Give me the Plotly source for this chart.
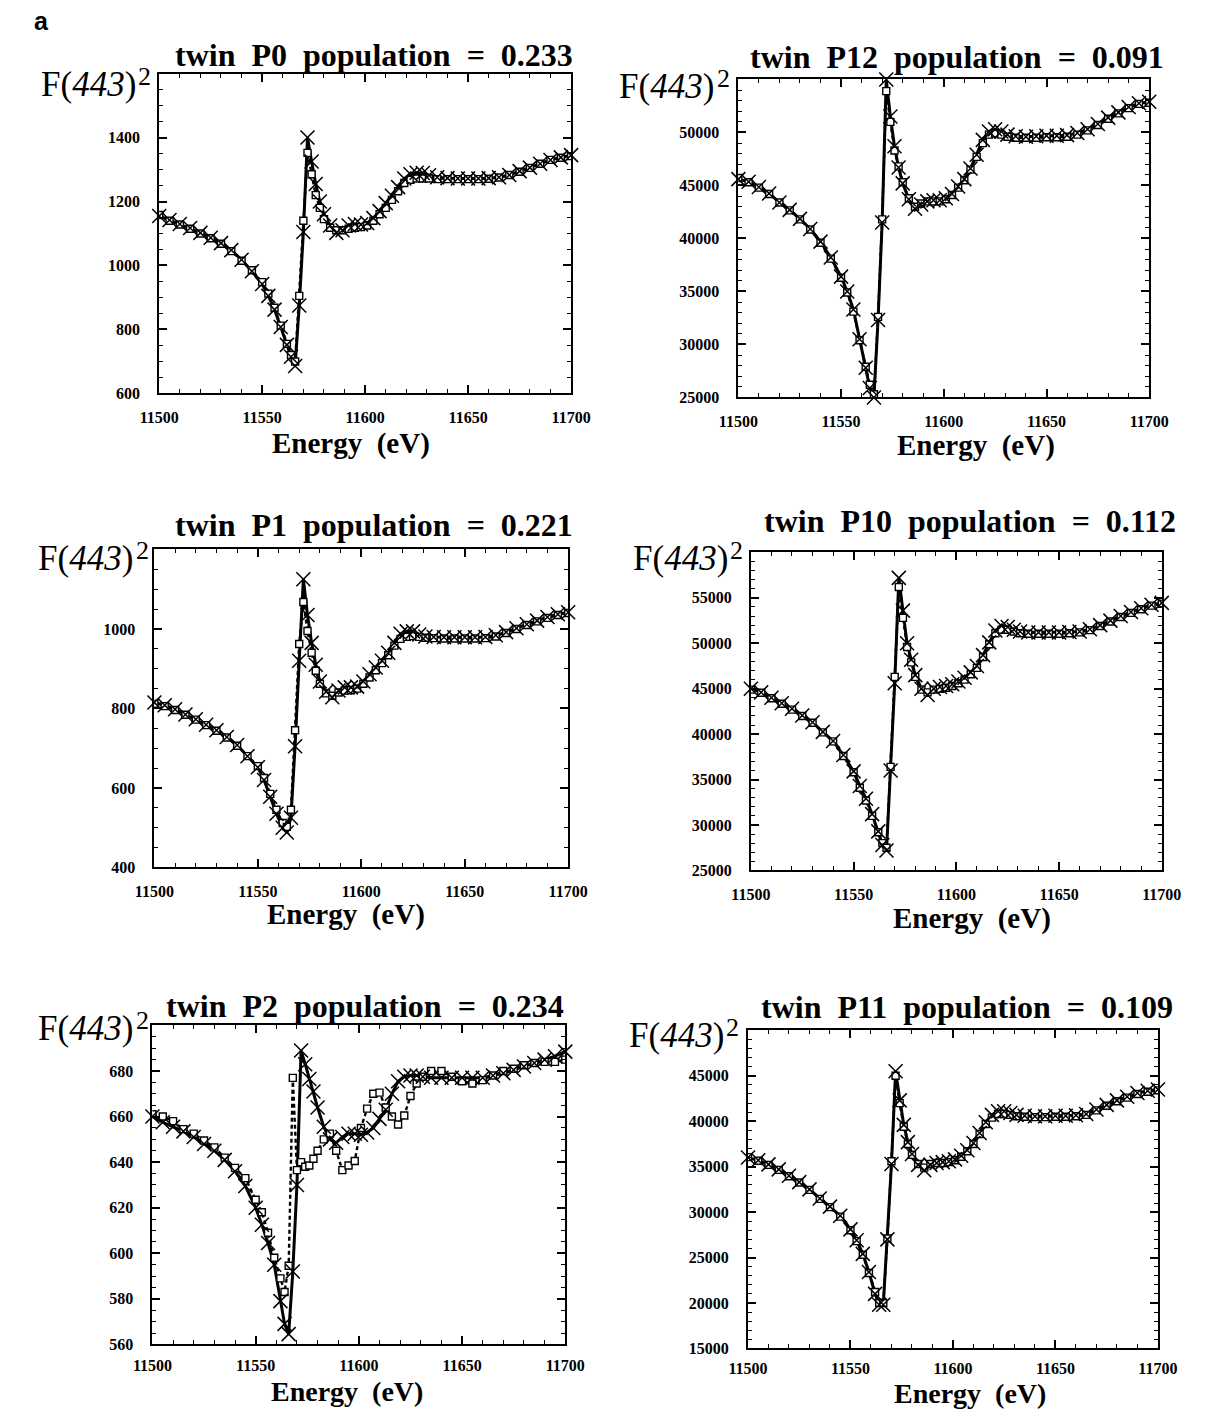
import plotly.graph_objects as go

W, H = 1205, 1415

# ---------------- data ----------------
energy = [11500, 11505, 11510, 11515, 11520, 11525, 11530, 11535, 11540, 11545,
          11550, 11553, 11556, 11559, 11562, 11564, 11566, 11568, 11570, 11572,
          11574, 11576, 11578, 11580, 11583, 11586, 11589, 11592, 11595, 11598,
          11601, 11604, 11607, 11610, 11613, 11616, 11619, 11622, 11625, 11628,
          11631, 11635, 11640, 11645, 11650, 11655, 11660, 11665, 11670, 11675,
          11680, 11685, 11690, 11695, 11700]

x_ticks = [11500, 11550, 11600, 11650, 11700]

# twin P0
p0_calc = [1155, 1142, 1130, 1117, 1102, 1087, 1070, 1048, 1018, 982,
           942, 905, 862, 808, 752, 715, 686, 875, 1105, 1400,
           1325, 1255, 1200, 1160, 1125, 1102, 1110, 1125, 1130, 1128,
           1133, 1148, 1170, 1195, 1218, 1245, 1272, 1285, 1290, 1289,
           1282, 1276, 1273, 1272, 1272, 1272, 1273, 1276, 1283, 1295,
           1306, 1318, 1330, 1338, 1345]
p0_obs = [1158, 1140, 1128, 1115, 1100, 1085, 1068, 1045, 1015, 985,
          948, 912, 868, 812, 755, 720, 700, 905, 1140, 1352,
          1285, 1220, 1180, 1145, 1118, 1110, 1110, 1115, 1118, 1120,
          1125, 1140, 1160, 1180, 1205, 1232, 1258, 1268, 1272, 1272,
          1272, 1270, 1270, 1270, 1270, 1270, 1271, 1275, 1283, 1293,
          1305, 1318, 1330, 1337, 1342]
p0_yticks = [600, 800, 1000, 1200, 1400]

# twin P12
p12_calc = [45600, 45350, 44850, 44250, 43400, 42700, 41850, 40900, 39700, 38200,
            36400, 35000, 33300, 30500, 27800, 25900, 25000, 32300, 41500, 55000,
            51500, 48700, 46700, 45200, 43700, 42800, 43200, 43500, 43600, 43600,
            43800, 44200, 44900, 45600, 46600, 47900, 49300, 50100, 50300, 50100,
            49800, 49650, 49600, 49650, 49700, 49700, 49750, 49950, 50300, 50800,
            51400, 51900, 52400, 52750, 52900]
p12_obs = [45700, 45300, 44800, 44200, 43400, 42650, 41800, 40850, 39600, 38100,
           36300, 34900, 33100, 30400, 27900, 26200, 25300, 32600, 41800, 53900,
           51000, 48300, 46800, 45300, 43800, 43000, 43300, 43500, 43500, 43500,
           43700, 44100, 44800, 45500, 46500, 47700, 49000, 49800, 49900, 49800,
           49600, 49500, 49500, 49500, 49550, 49550, 49600, 49800, 50200, 50700,
           51300, 51800, 52300, 52700, 52800]
p12_yticks = [25000, 30000, 35000, 40000, 45000, 50000]

# twin P1
p1_calc = [815, 808, 798, 785, 773, 759, 745, 728, 708, 680,
           652, 620, 578, 535, 500, 488, 525, 705, 920, 1125,
           1035, 965, 910, 868, 842, 828, 845, 853, 853, 855,
           868, 886, 903, 920, 940, 965, 988, 994, 994, 986,
           981, 980, 979, 979, 979, 979, 980, 984, 992, 1002,
           1012, 1021, 1030, 1037, 1042]
p1_obs = [812, 806, 796, 784, 772, 758, 744, 727, 706, 680,
          655, 625, 585, 545, 512, 502, 545, 745, 962, 1068,
          995, 940, 895, 862, 838, 832, 840, 845, 846, 850,
          862, 878, 896, 914, 934, 958, 975, 980, 982, 980,
          978, 977, 976, 976, 976, 976, 977, 981, 990, 1000,
          1010, 1019, 1028, 1035, 1040]
p1_yticks = [400, 600, 800, 1000]

# twin P10
p10_calc = [45000, 44600, 44000, 43400, 42800, 42050, 41300, 40250, 39250, 37700,
            35900, 34300, 32900, 31200, 29300, 27800, 27200, 36000, 45600, 57200,
            53600, 50000, 48200, 46500, 45000, 44300, 45000, 45200, 45300, 45500,
            45800, 46200, 46800, 47500, 48700, 50100, 51400, 51900, 51800, 51500,
            51300, 51200, 51200, 51200, 51200, 51250, 51300, 51550, 52000, 52500,
            53000, 53450, 53850, 54250, 54450]
p10_obs = [44900, 44550, 43950, 43350, 42700, 42000, 41250, 40200, 39200, 37600,
           35800, 34100, 32700, 31000, 29200, 28000, 27500, 36400, 46300, 56200,
           52800, 49600, 47900, 46300, 44900, 44600, 44900, 45000, 45100, 45300,
           45600, 46000, 46600, 47300, 48500, 49900, 51100, 51500, 51500, 51300,
           51100, 51050, 51050, 51050, 51050, 51100, 51200, 51450, 51900, 52400,
           52900, 53350, 53750, 54150, 54350]
p10_yticks = [25000, 30000, 35000, 40000, 45000, 50000, 55000]

# twin P2
p2_calc = [660, 657.5, 655.5, 653.5, 651, 648, 645, 641, 636, 629.5,
           620, 612.5, 604.5, 595, 579, 569, 564.5, 592, 630, 689,
           683, 676.5, 671, 664, 655.5, 650, 648.5, 651, 652.5, 652.5,
           652, 653, 655, 659, 663, 670, 675.5, 677.5, 678, 678,
           677.5, 677, 677, 677, 677, 677, 677, 678, 679, 680.5,
           682, 683.5, 685, 686.5, 688.5]
p2_obs = [661, 660, 658, 654.5, 652.5, 649.5, 646.5, 642, 637.5, 633,
          623.5, 618, 609, 598, 589, 583, 594.5, 677, 636.5, 640,
          638, 638.5, 641.5, 645, 650, 652.5, 645, 636.5, 638.5, 640.5,
          655, 663.5, 670, 670.5, 664, 660, 656.5, 660.5, 669, 674.5,
          677.5, 680, 680, 677.5, 675.5, 674.5, 676, 678, 680, 681,
          682.5, 683.5, 684, 684, 685]
p2_yticks = [560, 580, 600, 620, 640, 660, 680]

# twin P11
p11_calc = [36000, 35700, 35250, 34700, 34000, 33300, 32500, 31500, 30600, 29600,
            28100, 26900, 25400, 23400, 21000, 19800, 19800, 27000, 35300, 45500,
            42300, 39600, 37700, 36400, 35200, 34600, 35200, 35400, 35500, 35600,
            35800, 36200, 36800, 37600, 38700, 39900, 40700, 41100, 41100, 40900,
            40700, 40600, 40550, 40550, 40600, 40600, 40650, 40800, 41300, 41800,
            42300, 42700, 43100, 43350, 43500]
p11_obs = [36050, 35650, 35200, 34650, 33950, 33250, 32450, 31450, 30550, 29500,
           28000, 26800, 25300, 23300, 21200, 20000, 20000, 27100, 35600, 45000,
           42000, 39400, 37500, 36300, 35300, 34900, 35300, 35400, 35400, 35500,
           35700, 36100, 36700, 37500, 38600, 39700, 40400, 40800, 40800, 40700,
           40550, 40500, 40450, 40450, 40500, 40500, 40550, 40700, 41200, 41700,
           42200, 42600, 43000, 43250, 43400]
p11_yticks = [15000, 20000, 25000, 30000, 35000, 40000, 45000]

# ---------------- layout config ----------------
panels = [
    dict(tw="P0", pop="0.233", calc=p0_calc, obs=p0_obs, yr=[600, 1600], yt=p0_yticks, ym=50,
         box=(144, 570, 74, 396), tpos=(366, 55), fpos=(137, 85), epos=(342, 446), es=29, xs=8),
    dict(tw="P12", pop="0.091", calc=p12_calc, obs=p12_obs, yr=[25000, 55000], yt=p12_yticks, ym=1000,
         box=(743, 1168, 80, 400), tpos=(969, 57), fpos=(735, 87), epos=(989, 448), es=29, xs=8),
    dict(tw="P1", pop="0.221", calc=p1_calc, obs=p1_obs, yr=[400, 1200], yt=p1_yticks, ym=50,
         box=(139, 567, 553, 873), tpos=(366, 528), fpos=(134, 562), epos=(337, 920), es=29, xs=8),
    dict(tw="P10", pop="0.112", calc=p10_calc, obs=p10_obs, yr=[25000, 60000], yt=p10_yticks, ym=1000,
         box=(756, 1181, 556, 876), tpos=(983, 524), fpos=(749, 562), epos=(985, 924), es=29, xs=8),
    dict(tw="P2", pop="0.234", calc=p2_calc, obs=p2_obs, yr=[560, 700], yt=p2_yticks, ym=5,
         box=(137, 564, 1032, 1353), tpos=(357, 1012), fpos=(134, 1035), epos=(338, 1400), es=28, xs=5),
    dict(tw="P11", pop="0.109", calc=p11_calc, obs=p11_obs, yr=[15000, 50000], yt=p11_yticks, ym=1000,
         box=(753, 1177, 1037, 1357), tpos=(979, 1013), fpos=(745, 1042), epos=(983, 1402), es=28, xs=4),
]

SERIF = "Liberation Serif"
NB = "\u00a0"

fig = go.Figure()
annotations = []
layout_axes = {}


def px(x):
    return x / W


def py(y):
    return 1 - y / H


for i, p in enumerate(panels):
    n = "" if i == 0 else str(i + 1)
    xa, ya = "x" + n, "y" + n
    l, r, t, b = p["box"]

    fig.add_trace(go.Scatter(x=energy, y=p["calc"], mode="lines", xaxis=xa, yaxis=ya,
                             line=dict(color="black", width=3), showlegend=False))
    fig.add_trace(go.Scatter(x=energy, y=p["obs"], mode="lines+markers", xaxis=xa, yaxis=ya,
                             line=dict(color="black", width=2.4, dash="4px,3px"),
                             marker=dict(symbol="square", size=7, color="white",
                                         line=dict(color="black", width=1.4)),
                             showlegend=False))
    fig.add_trace(go.Scatter(x=energy, y=p["calc"], mode="markers", xaxis=xa, yaxis=ya,
                             marker=dict(symbol="x-thin", size=14,
                                         line=dict(color="black", width=1.5)),
                             cliponaxis=False, showlegend=False))

    common = dict(showline=True, linecolor="black", linewidth=2, mirror="allticks",
                  ticks="inside", ticklen=8, tickwidth=1.5, tickcolor="black",
                  showgrid=False, zeroline=False,
                  tickfont=dict(family=SERIF, size=16, color="black", weight="bold"))
    layout_axes["xaxis" + n] = dict(domain=[px(l), px(r)], range=[11500, 11700], anchor=ya,
                                    tickmode="array", tickvals=x_ticks,
                                    ticktext=[str(v) for v in x_ticks], ticklabelstandoff=p["xs"],
                                    minor=dict(tick0=11500, dtick=10, ticks="inside", ticklen=4,
                                               tickwidth=1.2, tickcolor="black", showgrid=False),
                                    **common)
    layout_axes["yaxis" + n] = dict(domain=[py(b), py(t)], range=p["yr"], anchor=xa,
                                    tickmode="array", tickvals=p["yt"],
                                    ticktext=[str(v) for v in p["yt"]], ticklabelstandoff=14,
                                    minor=dict(tick0=p["yr"][0], dtick=p["ym"], ticks="inside",
                                               ticklen=4, tickwidth=1.2, tickcolor="black",
                                               showgrid=False),
                                    **common)

    title = f"<b>twin{NB} {p['tw']}{NB} population{NB} ={NB} {p['pop']}</b>"
    annotations.append(dict(text=title, x=px(p["tpos"][0]), y=py(p["tpos"][1]),
                            xref="paper", yref="paper", xanchor="center", yanchor="middle",
                            showarrow=False, font=dict(family=SERIF, size=32, color="black")))
    fx, fy = p["fpos"]
    annotations.append(dict(text="F(<i>443</i>)", x=px(fx - 15), y=py(fy), xref="paper", yref="paper",
                            xanchor="right", yanchor="middle", showarrow=False,
                            font=dict(family=SERIF, size=35, color="black")))
    annotations.append(dict(text="2", x=px(fx + 1), y=py(fy - 8), xref="paper", yref="paper",
                            xanchor="right", yanchor="middle", showarrow=False,
                            font=dict(family=SERIF, size=26, color="black")))
    ex, ey = p["epos"]
    annotations.append(dict(text=f"<b>Energy{NB} (eV)</b>", x=px(ex), y=py(ey),
                            xref="paper", yref="paper", xanchor="center", yanchor="middle",
                            showarrow=False, font=dict(family=SERIF, size=p["es"], color="black")))

annotations.append(dict(text="<b>a</b>", x=px(12), y=py(21), xref="paper", yref="paper",
                        xanchor="left", yanchor="middle", showarrow=False,
                        font=dict(family="Liberation Sans", size=25, color="black")))

fig.update_layout(width=W, height=H, margin=dict(l=0, r=0, t=0, b=0, pad=0),
                  paper_bgcolor="white", plot_bgcolor="white",
                  annotations=annotations, **layout_axes)

fig.write_html("out.html", config={"displayModeBar": False},
               post_script="document.body.style.margin='0';")
